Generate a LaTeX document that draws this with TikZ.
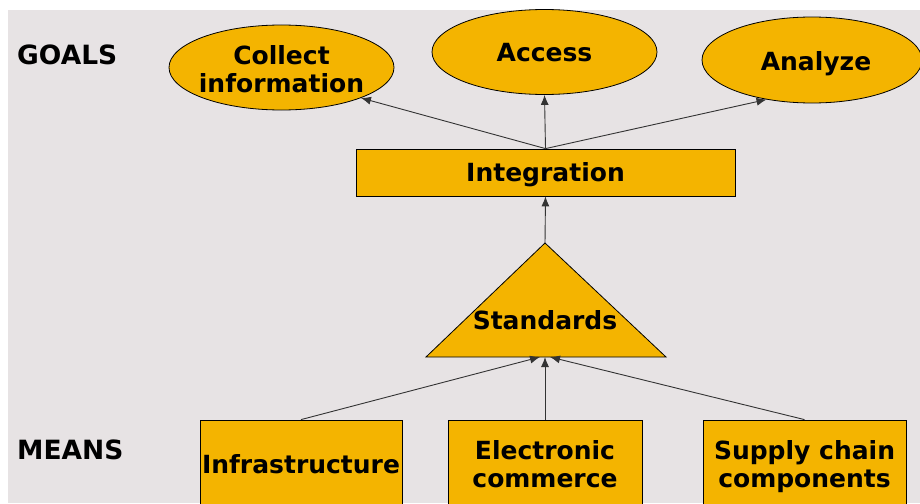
\documentclass[tikz,border=0pt]{standalone}
\usepackage{fontspec}
\setmainfont{DejaVu Sans}
\usetikzlibrary{shapes.geometric,arrows.meta}
\definecolor{bg}{RGB}{231,227,228}
\definecolor{gold}{RGB}{244,180,0}
\begin{document}
\begin{tikzpicture}[x=1pt,y=-1pt,
  lab/.style={font=\fontsize{25}{28}\selectfont\bfseries, align=center, inner sep=0pt},
  side/.style={font=\fontsize{26.5}{30}\selectfont\bfseries, inner sep=0pt, anchor=west},
  shp/.style={draw=black, fill=gold, line width=0.8pt},
  ell/.style={shp, ellipse, minimum width=225pt, minimum height=85pt, inner sep=0pt},
  box/.style={shp, rectangle, lab},
  arr/.style={draw=black!80, line width=0.9pt, -{Latex[length=10pt,width=8pt]}}]
\fill[white] (0,0) rectangle (920,503);
\useasboundingbox (0,0) rectangle (920,503);
\clip (8,10) rectangle (920,503);
\fill[bg] (8,10) rectangle (920,503);

\node[side] (goals) at (17,55) {GOALS};
\node[side] (means) at (17,450) {MEANS};

\node[ell] (collect) at (281.5,67.5) {};
\node[lab] (collecttxt) at (281.5,69) {Collect\\information};
\node[ell] (access) at (544.5,52) {};
\node[lab] (accesstxt) at (544.5,53) {Access};
\node[ell, minimum width=220pt, minimum height=86pt] (analyze) at (812,60) {};
\node[lab, text depth=0pt] (analyzetxt) at (816,61) {Analyze};

\node[box, text depth=0pt, minimum width=379pt, minimum height=47pt] (integ) at (545.5,172.5) {Integration};

\coordinate (apex) at (545,243);
\coordinate (bl) at (426,357);
\coordinate (br) at (666,357);
\draw[shp, line join=miter] (bl) -- (apex) -- (br) -- cycle;
\node[lab] (std) at (545,320) {Standards};
\coordinate (tb1) at (540,357);
\coordinate (tb2) at (545,357);
\coordinate (tb3) at (550,357);

\node[box, minimum width=202pt, minimum height=88pt] (infra) at (301,464) {Infrastructure};
\node[box, minimum width=194pt, minimum height=88pt] (ecom) at (545,464) {Electronic\\commerce};
\node[box, text depth=0pt, minimum width=203pt, minimum height=88pt] (supply) at (804.5,464) {Supply chain\\components};

\draw[arr] (integ.north) -- (collect.-21);
\draw[arr] (integ.north) -- (access.south);
\draw[arr] (integ.north) -- (analyze.-139);
\draw[arr] (apex) -- (integ.south);
\draw[arr] (infra.north) -- (tb1);
\draw[arr] (ecom.north) -- (tb2);
\draw[arr] (supply.north) -- (tb3);
\end{tikzpicture}
\end{document}
